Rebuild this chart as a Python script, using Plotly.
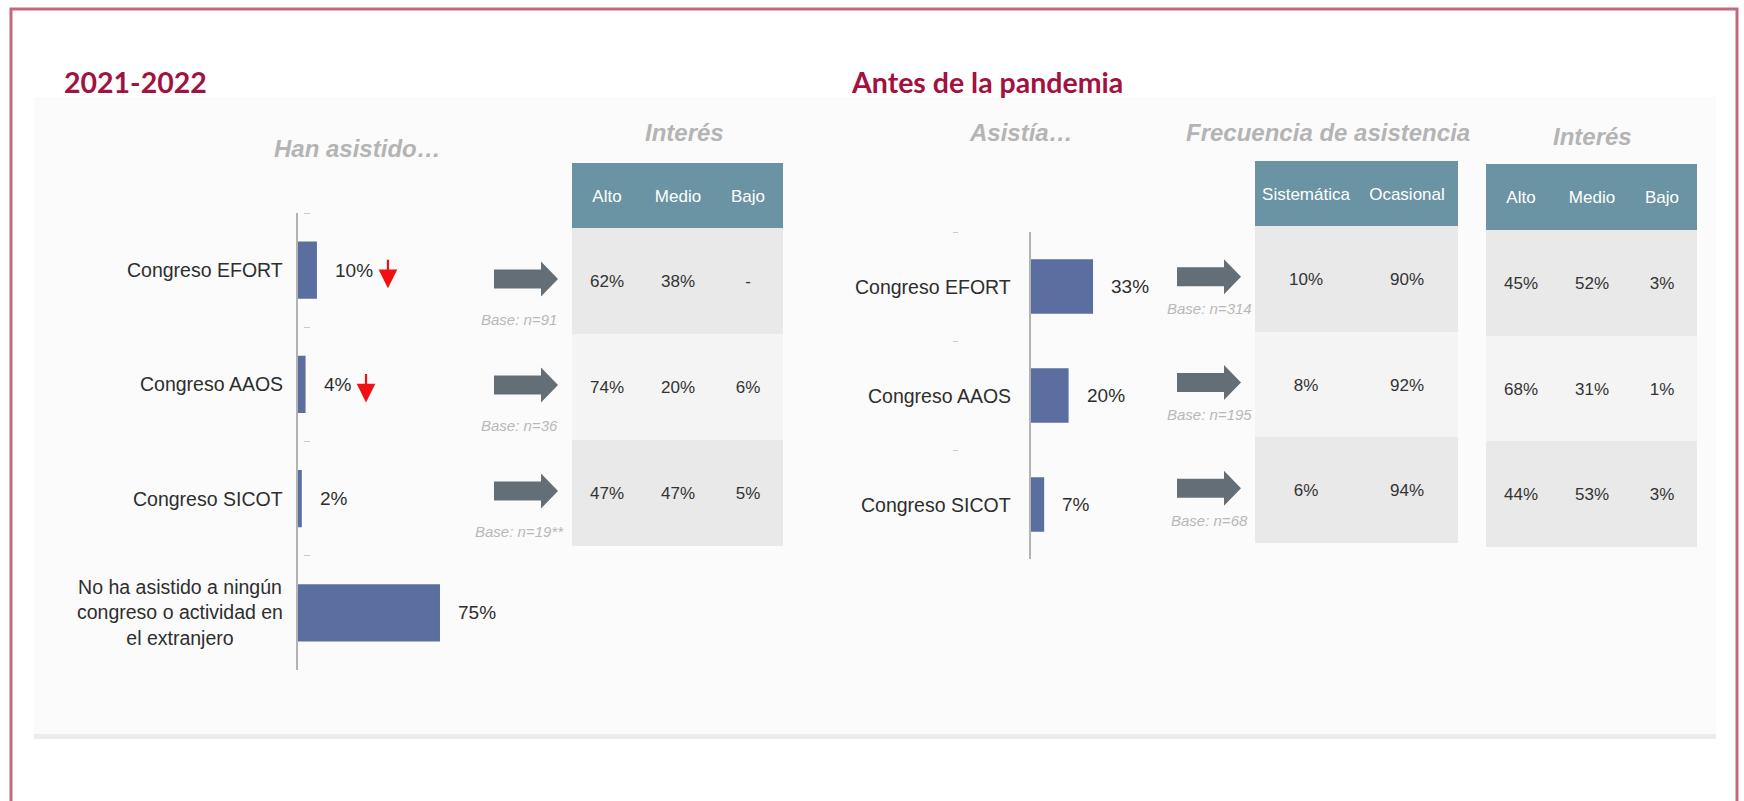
import plotly.graph_objects as go

W, H = 1744, 801

# ---------------- data ----------------
recent_categories = ["Congreso EFORT", "Congreso AAOS", "Congreso SICOT",
                     "No ha asistido a ningún<br>congreso o actividad en<br>el extranjero"]
recent_values = [10, 4, 2, 75]
recent_trend = ["down", "down", "", ""]
recent_bases = ["Base: n=91", "Base: n=36", "Base: n=19**"]
interest_cols = ["Alto", "Medio", "Bajo"]
recent_interest = [["62%", "38%", "-"],
                   ["74%", "20%", "6%"],
                   ["47%", "47%", "5%"]]

pre_categories = ["Congreso EFORT", "Congreso AAOS", "Congreso SICOT"]
pre_values = [33, 20, 7]
pre_bases = ["Base: n=314", "Base: n=195", "Base: n=68"]
freq_cols = ["Sistemática", "Ocasional"]
pre_frequency = [["10%", "90%"],
                 ["8%", "92%"],
                 ["6%", "94%"]]
pre_interest = [["45%", "52%", "3%"],
                ["68%", "31%", "1%"],
                ["44%", "53%", "3%"]]

# ---------------- style ----------------
FONT = "Liberation Sans, Arial, sans-serif"
BAR = "#5a6e9f"
TEAL = "#6a93a3"
ROW_A = "#e9e9e9"
ROW_B = "#f4f4f4"
ARROW = "#646e76"
TITLE_RED = "#a3123e"
SUB_GRAY = "#b4b4b4"
TEXT = "#2e2e2e"


def px_x(x):
    return x / W


def px_y(y):
    return 1 - y / H


fig = go.Figure()

# ---------------- bar charts ----------------
fig.add_trace(go.Bar(x=recent_values, y=recent_categories, orientation="h",
                     marker=dict(color=BAR, line_width=0), width=0.5,
                     hoverinfo="skip", xaxis="x", yaxis="y"))
fig.add_trace(go.Bar(x=pre_values, y=pre_categories, orientation="h",
                     marker=dict(color=BAR, line_width=0), width=0.5,
                     hoverinfo="skip", xaxis="x2", yaxis="y2"))
# invisible traces carrying the offset tick marks
fig.add_trace(go.Scatter(x=[0] * len(recent_categories), y=recent_categories, mode="markers",
                         marker=dict(opacity=0), hoverinfo="skip", xaxis="x", yaxis="y9"))
fig.add_trace(go.Scatter(x=[0] * len(pre_categories), y=pre_categories, mode="markers",
                         marker=dict(opacity=0), hoverinfo="skip", xaxis="x2", yaxis="y10"))


# ---------------- tables as heatmaps ----------------
def add_table(cols, rows, cells, xa, ya_head, ya_body):
    z = [[i % 2 for _ in cols] for i in range(len(rows))]
    fig.add_trace(go.Heatmap(x=cols, y=rows, z=z, text=cells, texttemplate="%{text}",
                             textfont=dict(size=17, color="#333333", family=FONT),
                             colorscale=[[0, ROW_A], [1, ROW_B]], zmin=0, zmax=1,
                             showscale=False, hoverinfo="skip", xgap=0, ygap=0,
                             xaxis=xa, yaxis=ya_body))
    fig.add_trace(go.Heatmap(x=cols, y=["header"], z=[[0] * len(cols)], text=[cols],
                             texttemplate="%{text}",
                             textfont=dict(size=17, color="white", family=FONT),
                             colorscale=[[0, TEAL], [1, TEAL]], zmin=0, zmax=1,
                             showscale=False, hoverinfo="skip",
                             xaxis=xa, yaxis=ya_head))


add_table(interest_cols, pre_categories, recent_interest, "x3", "y3", "y4")
add_table(freq_cols, pre_categories, pre_frequency, "x4", "y5", "y6")
add_table(interest_cols, pre_categories, pre_interest, "x5", "y7", "y8")

hidden = dict(showgrid=False, zeroline=False, showticklabels=False, ticks="",
              showline=False, fixedrange=True)


def cat_range(items):
    return [len(items) - 0.5, -0.5]


def col_range(items):
    return [-0.5, len(items) - 0.5]


T1_LEFT, T2_LEFT = 572, 1255

layout = dict(
    width=W, height=H, margin=dict(l=0, r=0, t=0, b=0),
    paper_bgcolor="white", plot_bgcolor="rgba(0,0,0,0)", showlegend=False,
    font=dict(family=FONT, color=TEXT),
    xaxis=dict(domain=[px_x(298), px_x(298 + 100 * 1.893)], range=[0, 100], anchor="y", **hidden),
    yaxis=dict(domain=[px_y(670), px_y(213)], anchor="x", type="category",
               categoryorder="array", categoryarray=recent_categories,
               range=cat_range(recent_categories),
               showgrid=False, zeroline=False, showticklabels=False, ticks="",
               showline=True, linecolor="#b3b3b3", linewidth=1.5),
    yaxis9=dict(overlaying="y", anchor="free", position=px_x(303), side="right",
                type="category", categoryorder="array", categoryarray=recent_categories,
                range=cat_range(recent_categories), tickson="boundaries", ticks="outside",
                ticklen=6, tickcolor="#c9c9c9", tickwidth=1, showticklabels=False,
                showgrid=False, showline=False, zeroline=False),
    xaxis2=dict(domain=[px_x(1031), px_x(1031 + 100 * 1.88)], range=[0, 100], anchor="y2", **hidden),
    yaxis2=dict(domain=[px_y(559), px_y(232)], anchor="x2", type="category",
                categoryorder="array", categoryarray=pre_categories,
                range=cat_range(pre_categories),
                showgrid=False, zeroline=False, showticklabels=False, ticks="",
                showline=True, linecolor="#b3b3b3", linewidth=1.5),
    yaxis10=dict(overlaying="y2", anchor="free", position=px_x(958), side="left",
                 type="category", categoryorder="array", categoryarray=pre_categories,
                 range=cat_range(pre_categories), tickson="boundaries", ticks="outside",
                 ticklen=5, tickcolor="#c9c9c9", tickwidth=1, showticklabels=False,
                 showgrid=False, showline=False, zeroline=False),
    # table 1
    xaxis3=dict(domain=[px_x(T1_LEFT), px_x(783)], anchor="y4", range=col_range(interest_cols), **hidden),
    yaxis3=dict(domain=[px_y(228), px_y(163)], anchor="x3", range=[-0.5, 0.5], **hidden),
    yaxis4=dict(domain=[px_y(546), px_y(228)], anchor="x3", range=cat_range(pre_categories), **hidden),
    # table 2
    xaxis4=dict(domain=[px_x(T2_LEFT), px_x(1458)], anchor="y6", range=col_range(freq_cols), **hidden),
    yaxis5=dict(domain=[px_y(226), px_y(161)], anchor="x4", range=[-0.5, 0.5], **hidden),
    yaxis6=dict(domain=[px_y(543), px_y(226)], anchor="x4", range=cat_range(pre_categories), **hidden),
    # table 3
    xaxis5=dict(domain=[px_x(1486), px_x(1697)], anchor="y8", range=col_range(interest_cols), **hidden),
    yaxis7=dict(domain=[px_y(230), px_y(164)], anchor="x5", range=[-0.5, 0.5], **hidden),
    yaxis8=dict(domain=[px_y(547), px_y(230)], anchor="x5", range=cat_range(pre_categories), **hidden),
)
fig.update_layout(**layout)

shapes = []
annotations = []

# background panel, bottom rule and outer frame
shapes.append(dict(type="rect", xref="paper", yref="paper", x0=px_x(34), x1=px_x(1716),
                   y0=px_y(735), y1=px_y(97), fillcolor="#fbfbfb", line_width=0, layer="below"))
shapes.append(dict(type="rect", xref="paper", yref="paper", x0=px_x(34), x1=px_x(1716),
                   y0=px_y(739), y1=px_y(734), fillcolor="#ececec", line_width=0, layer="below"))
shapes.append(dict(type="rect", xref="paper", yref="paper", x0=px_x(11), x1=px_x(1737),
                   y0=px_y(812), y1=px_y(9), fillcolor="rgba(0,0,0,0)",
                   line=dict(color="#c4687d", width=3)))

# block arrows and base notes next to each table
ARROW_PATH = "M -78,-7.5 L -31,-7.5 L -31,-15.5 L -14,2 L -31,19.5 L -31,11.5 L -78,11.5 Z"
for xa, ya, left, bases, bshift in [("x3", "y4", T1_LEFT, recent_bases, (-53, -38)),
                                    ("x4", "y6", T2_LEFT, pre_bases, (-46, -30))]:
    for i, b in enumerate(bases):
        shapes.append(dict(type="path", xref="paper", yref=ya, xsizemode="pixel", ysizemode="pixel",
                           xanchor=px_x(left), yanchor=i, path=ARROW_PATH,
                           fillcolor=ARROW, line_width=0))
        annotations.append(dict(xref=xa, yref=ya, x=-0.5, y=i, xshift=bshift[0], yshift=bshift[1],
                                text="<i>" + b + "</i>", showarrow=False, xanchor="center",
                                yanchor="middle", font=dict(size=15, color="#b8b8b8", family=FONT)))

# category labels and value labels
for xa, ya, cats, vals, label_right in [("x", "y", recent_categories, recent_values, 285),
                                       ("x2", "y2", pre_categories, pre_values, 1013)]:
    for i, (c, v) in enumerate(zip(cats, vals)):
        annotations.append(dict(xref="paper", yref=ya, x=px_x(label_right), y=i, text=c,
                                showarrow=False, xanchor="right", yanchor="middle", align="center",
                                font=dict(size=19.5, color=TEXT, family=FONT)))
        annotations.append(dict(xref=xa, yref=ya, x=v, y=i, xshift=16, text=f"{v}%",
                                showarrow=False, xanchor="left", yanchor="middle",
                                font=dict(size=19, color=TEXT, family=FONT)))

# red trend arrows
for i, (v, t) in enumerate(zip(recent_values, recent_trend)):
    if t == "down":
        text_w = 19 * (0.556 * len(str(v)) + 0.889)
        annotations.append(dict(xref="x", yref="y", x=v, y=i, xshift=16 + text_w + 17,
                                yshift=-18, text="", showarrow=True, ax=0, ay=-30,
                                arrowhead=2, arrowsize=1.7, arrowwidth=2.2,
                                arrowcolor="#f01010"))

# titles
for txt, x, y in [("2021-2022", 62, 82), ("Antes de la pandemia", 849, 82)]:
    annotations.append(dict(xref="paper", yref="paper", x=px_x(x), y=px_y(y), text="<b>" + txt + "</b>",
                            showarrow=False, xanchor="left", yanchor="middle",
                            font=dict(size=28.5, color=TITLE_RED, family="Lato, Liberation Sans, sans-serif")))
for txt, x, y in [("Han asistido…", 357, 148), ("Interés", 684, 133), ("Asistía…", 1021, 133),
                  ("Frecuencia de asistencia", 1328, 133), ("Interés", 1592, 137)]:
    annotations.append(dict(xref="paper", yref="paper", x=px_x(x), y=px_y(y),
                            text="<b><i>" + txt + "</i></b>", showarrow=False,
                            xanchor="center", yanchor="middle",
                            font=dict(size=24, color=SUB_GRAY, family=FONT)))

fig.update_layout(shapes=shapes, annotations=annotations)
fig.write_html("out.html", config={"displayModeBar": False},
               post_script="document.body.style.margin='0';document.body.style.padding='0';"
                           "document.body.style.overflow='hidden';")
